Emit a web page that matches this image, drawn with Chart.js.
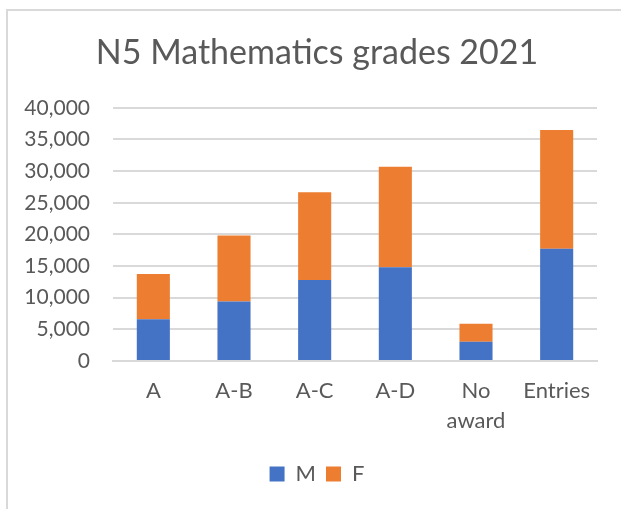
<!DOCTYPE html>
<html>
<head>
<meta charset="utf-8">
<script src="https://cdn.jsdelivr.net/npm/chart.js@4/dist/chart.umd.min.js"></script>
<style>
  html, body { margin: 0; padding: 0; background: #fff; }
  #frame {
    position: absolute; left: 6px; top: 9px; width: 640px; height: 520px;
    border-left: 2px solid #d9d9d9; border-top: 2px solid #d9d9d9;
  }
  #wrap { position: absolute; left: 0; top: 0; width: 621px; height: 509px; }
</style>
</head>
<body>
<div id="frame"></div>
<div id="wrap"><canvas id="chart"></canvas></div>
<script>
// N5 Mathematics grades 2021 - stacked M / F counts
const categories = ['A', 'A-B', 'A-C', 'A-D', ['No', 'award'], 'Entries'];
const maleValues   = [6600, 9400, 12800, 14800, 3050, 17750];
const femaleValues = [7160, 10440, 13870, 15890, 2820, 18760];
const yMin = 0, yMax = 40000, yStep = 5000;

const textColor = '#595959';
const gridColor = '#d9d9d9';
const FONT = 'Lato';

new Chart(document.getElementById('chart'), {
  type: 'bar',
  data: {
    labels: categories,
    datasets: [
      { label: 'M', data: maleValues,   backgroundColor: '#4472c4', barPercentage: 0.41, categoryPercentage: 1 },
      { label: 'F', data: femaleValues, backgroundColor: '#ed7d31', barPercentage: 0.41, categoryPercentage: 1 },
    ]
  },
  options: {
    responsive: true,
    maintainAspectRatio: false,
    animation: false,
    layout: { padding: { left: 20, right: 7, top: 0, bottom: 14 } },
    plugins: {
      title: {
        display: true,
        text: 'N5 Mathematics grades 2021',
        color: textColor,
        font: { family: FONT, size: 34, weight: 'normal', lineHeight: 1.2 },
        padding: { top: 33, bottom: 34 },
      },
      legend: {
        position: 'bottom',
        labels: {
          color: textColor,
          boxWidth: 15, boxHeight: 15,
          padding: 10,
          font: { family: FONT, size: 22 },
        }
      },
      tooltip: { enabled: false },
    },
    scales: {
      x: {
        stacked: true,
        grid: { display: false },
        border: { color: gridColor, width: 2 },
        ticks: { color: textColor, padding: 7, font: { family: FONT, size: 22, lineHeight: 1.35 }, maxRotation: 0 },
        afterFit: axis => { axis.height = 92; },
      },
      y: {
        stacked: true,
        min: yMin, max: yMax,
        grid: { color: gridColor, lineWidth: 2, drawTicks: false },
        border: { display: false },
        ticks: {
          stepSize: yStep,
          color: textColor,
          padding: 23,
          font: { family: FONT, size: 21 },
          callback: v => v.toLocaleString('en-US'),
        },
        afterFit: axis => { axis.width = 93; },
      },
      // empty right-hand spacer so the title and legend sit where they do in the original
      spacer: {
        type: 'linear',
        position: 'right',
        grid: { display: false },
        border: { display: false },
        ticks: { display: false },
        afterFit: axis => { axis.width = 17; },
      }
    }
  }
});
</script>
</body>
</html>
